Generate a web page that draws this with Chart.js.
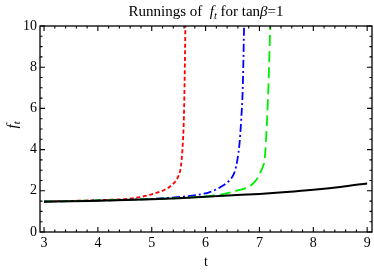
<!DOCTYPE html>
<html>
<head>
<meta charset="utf-8">
<script src="https://cdn.jsdelivr.net/npm/chart.js@4.4.1/dist/chart.umd.min.js"></script>
<style>
html,body{margin:0;padding:0;background:#fff;}
#wrap{width:374px;height:273px;}
</style>
</head>
<body>
<div id="wrap"><canvas id="c" width="374" height="273"></canvas></div>
<script>
// ---- data ----
const xTickValues = [3, 4, 5, 6, 7, 8, 9];
const yTickValues = [0, 2, 4, 6, 8, 10];

const blackT = [3.0, 3.5, 4.0, 4.5, 5.0, 5.5, 6.0, 6.5, 7.0, 7.5, 8.0, 8.5, 9.0];
const blackF = [1.47, 1.49, 1.52, 1.55, 1.59, 1.64, 1.71, 1.78, 1.85, 1.94, 2.05, 2.19, 2.36];

const redT = [3.0, 3.5, 4.0, 4.5, 4.7, 4.88, 5.06, 5.16, 5.25, 5.32, 5.37, 5.42, 5.46, 5.50, 5.53, 5.555, 5.57, 5.59, 5.605, 5.625];
const redF = [1.48, 1.51, 1.55, 1.60, 1.66, 1.75, 1.88, 1.96, 2.06, 2.17, 2.28, 2.40, 2.54, 2.75, 3.0, 3.5, 4.0, 5.0, 6.5, 10];

const blueT = [3.0, 3.5, 4.0, 4.5, 5.0, 5.3, 5.6, 5.85, 6.08, 6.22, 6.34, 6.43, 6.50, 6.55, 6.59, 6.63, 6.66, 6.69, 6.715];
const blueF = [1.48, 1.50, 1.53, 1.56, 1.61, 1.65, 1.72, 1.80, 1.94, 2.10, 2.28, 2.47, 2.70, 3.0, 3.5, 4.3, 5.4, 7.0, 10];

const greenT = [3.0, 3.5, 4.0, 4.5, 5.0, 5.5, 6.0, 6.3, 6.49, 6.64, 6.79, 6.88, 6.94, 7.01, 7.06, 7.10, 7.14, 7.17, 7.20];
const greenF = [1.48, 1.50, 1.53, 1.56, 1.60, 1.65, 1.73, 1.83, 1.94, 2.04, 2.18, 2.35, 2.52, 2.86, 3.15, 3.6, 5.4, 7.3, 10];

const titleParts = [
  {text: 'Runnings of  ', style: 'normal'},
  {text: 'f', style: 'italic'},
  {text: 't', style: 'italic', sub: true},
  {text: ' for tan', style: 'normal'},
  {text: '\u03B2', style: 'italic'},
  {text: '=1', style: 'normal'}
];
const xAxisTitle = 't';

// ---- helpers ----
function pts(ts, fs) { return ts.map((t, i) => ({x: t, y: fs[i]})); }
const SERIF = '"Liberation Serif", "DejaVu Serif", serif';

const framePlugin = {
  id: 'frame',
  afterDraw(chart) {
    const ctx = chart.ctx;
    const a = chart.chartArea;
    const xs = chart.scales.x, ys = chart.scales.y;
    ctx.save();
    ctx.strokeStyle = '#000';
    ctx.lineWidth = 1.3;
    ctx.strokeRect(a.left, a.top, a.right - a.left, a.bottom - a.top);
    ctx.lineWidth = 1.1;
    ctx.beginPath();
    for (let i = 0; i < xTickValues.length; i++) {
      const v = xTickValues[i];
      let p = xs.getPixelForValue(v);
      ctx.moveTo(p, a.bottom); ctx.lineTo(p, a.bottom - 5);
      ctx.moveTo(p, a.top); ctx.lineTo(p, a.top + 5);
      if (i < xTickValues.length - 1) {
        for (let k = 1; k < 5; k++) {
          p = xs.getPixelForValue(v + k * 0.2);
          ctx.moveTo(p, a.bottom); ctx.lineTo(p, a.bottom - 2.5);
          ctx.moveTo(p, a.top); ctx.lineTo(p, a.top + 2.5);
        }
      }
    }
    for (let i = 0; i < yTickValues.length; i++) {
      const v = yTickValues[i];
      let p = ys.getPixelForValue(v);
      ctx.moveTo(a.left, p); ctx.lineTo(a.left + 5, p);
      ctx.moveTo(a.right, p); ctx.lineTo(a.right - 5, p);
      if (i < yTickValues.length - 1) {
        for (let k = 1; k < 4; k++) {
          p = ys.getPixelForValue(v + k * 0.5);
          ctx.moveTo(a.left, p); ctx.lineTo(a.left + 2.5, p);
          ctx.moveTo(a.right, p); ctx.lineTo(a.right - 2.5, p);
        }
      }
    }
    ctx.stroke();

    // title
    ctx.fillStyle = '#000';
    ctx.textBaseline = 'alphabetic';
    const fs = 15;
    let total = 0;
    const widths = titleParts.map(p => {
      const size = p.sub ? fs * 0.7 : fs;
      ctx.font = p.style + ' ' + size + 'px ' + SERIF;
      const w = ctx.measureText(p.text).width;
      total += w;
      return w;
    });
    let x = (a.left + a.right) / 2 - total / 2;
    const base = 16;
    titleParts.forEach((p, i) => {
      const size = p.sub ? fs * 0.7 : fs;
      ctx.font = p.style + ' ' + size + 'px ' + SERIF;
      ctx.fillText(p.text, x, p.sub ? base + 2.5 : base);
      x += widths[i];
    });

    // y axis title f_t (rotated)
    ctx.save();
    ctx.translate(17, (a.top + a.bottom) / 2 - 4);
    ctx.rotate(-Math.PI / 2);
    ctx.font = 'italic 15px ' + SERIF;
    const wf = ctx.measureText('f').width;
    ctx.font = 'italic 10.5px ' + SERIF;
    const wt = ctx.measureText('t').width;
    let sx = -(wf + wt) / 2;
    ctx.font = 'italic 15px ' + SERIF;
    ctx.fillText('f', sx, 0);
    ctx.font = 'italic 10.5px ' + SERIF;
    ctx.fillText('t', sx + wf, 2.5);
    ctx.restore();
    ctx.restore();
  }
};

const ds = (label, ts, fs, color, dash, width, order) => ({
  label, data: pts(ts, fs), borderColor: color, backgroundColor: color,
  borderWidth: width, borderDash: dash, pointRadius: 0, fill: false,
  showLine: true, tension: 0.4, cubicInterpolationMode: 'monotone', order
});

new Chart(document.getElementById('c'), {
  type: 'scatter',
  data: {
    datasets: [
      ds('red', redT, redF, '#ff0000', [4, 2.6], 1.8, 3),
      ds('blue', blueT, blueF, '#0000ff', [8, 3, 2, 3], 1.8, 2),
      ds('green', greenT, greenF, '#00ee00', [11, 5], 1.8, 1),
      ds('black', blackT, blackF, '#000000', [], 2, 0)
    ]
  },
  plugins: [framePlugin],
  options: {
    responsive: false,
    animation: false,
    devicePixelRatio: 1,
    layout: {padding: {top: 26, right: 2, left: 0, bottom: 0}},
    plugins: {legend: {display: false}, tooltip: {enabled: false}, title: {display: false}},
    scales: {
      x: {
        type: 'linear', min: 2.925, max: 9.09,
        grid: {display: false, drawTicks: false},
        border: {display: false},
        afterBuildTicks: s => { s.ticks = xTickValues.map(v => ({value: v})); },
        afterFit: s => { s.height = 41; },
        ticks: {color: '#000', font: {family: SERIF, size: 14}, padding: 3, maxRotation: 0},
        title: {display: true, text: xAxisTitle, color: '#000', font: {family: SERIF, size: 14}, padding: {top: 0, bottom: 2}}
      },
      y: {
        type: 'linear', min: 0, max: 10,
        grid: {display: false, drawTicks: false},
        border: {display: false},
        afterBuildTicks: s => { s.ticks = yTickValues.map(v => ({value: v})); },
        afterFit: s => { s.width = 40; },
        ticks: {color: '#000', font: {family: SERIF, size: 14}, padding: 3}
      }
    }
  }
});
</script>
</body>
</html>
